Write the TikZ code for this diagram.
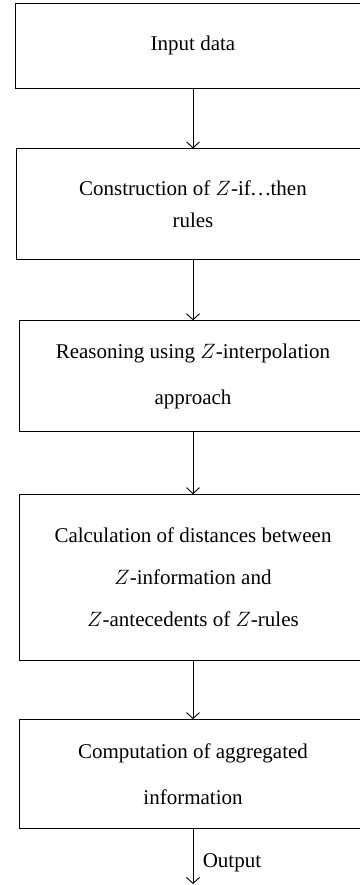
\documentclass[tikz,border=0pt]{standalone}
\usepackage{fontspec}
\setmainfont{Liberation Serif}
\usetikzlibrary{arrows.meta,positioning}

\begin{document}
\begin{tikzpicture}[x=1pt,y=1pt]
\tikzset{stage/.style={draw,line width=0.9pt,align=center,inner sep=0pt,
  font=\fontsize{21}{46}\selectfont}}
\tikzset{flow/.style={draw,line width=0.9pt,-{Straight Barb[length=6pt,width=13pt,line width=0.9pt]}}}
\useasboundingbox (0,0) rectangle (359,-885);
\node[stage,minimum width=356pt,minimum height=85pt] (input) at (193,-45.5) {Input data};
\node[stage,minimum width=354pt,minimum height=111pt,below=60pt of input,
  font=\fontsize{21}{32}\selectfont] (rules) {Construction of $Z$-if.\kern2pt.\kern2pt.then\\rules};
\node[stage,minimum width=348pt,minimum height=111pt,below=60pt of rules] (interp)
  {Reasoning using $Z$-interpolation\\approach};
\node[stage,minimum width=348pt,minimum height=166pt,below=62pt of interp,
  font=\fontsize{21}{42}\selectfont] (dist)
  {Calculation of distances between\\$Z$-information and\\$Z$-antecedents of $Z$-rules};
\node[stage,minimum width=348pt,minimum height=109pt,below=58pt of dist] (aggr)
  {Computation of aggregated\\information};
\coordinate[below=55pt of aggr] (out);
% arrows between the stages
\draw[flow] (input) -- (rules);
\draw[flow] (rules) -- (interp);
\draw[flow] (interp) -- (dist);
\draw[flow] (dist) -- (aggr);
\draw[flow] (aggr) -- node[pos=0.62,right=6pt,font=\fontsize{21}{24}\selectfont] {Output} (out);
\end{tikzpicture}
\end{document}
